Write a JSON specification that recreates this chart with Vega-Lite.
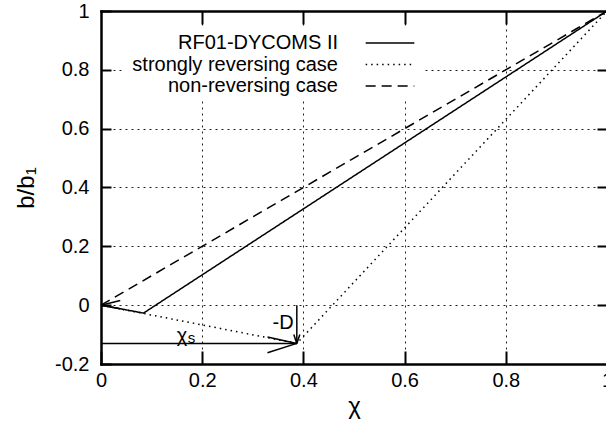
{
  "$schema": "https://vega.github.io/schema/vega-lite/v6.json",
  "width": 506,
  "height": 353,
  "autosize": {"type": "none"},
  "padding": {"left": 101, "top": 11, "right": -1, "bottom": 62},
  "background": "white",
  "view": {"stroke": null},
  "config": {"font": "Liberation Sans"},
  "datasets": {
    "curves": [
      {"series": "RF01-DYCOMS II", "chi": 0, "b": 0},
      {"series": "RF01-DYCOMS II", "chi": 0.084, "b": -0.027},
      {"series": "RF01-DYCOMS II", "chi": 1, "b": 1},
      {"series": "strongly reversing case", "chi": 0, "b": 0},
      {"series": "strongly reversing case", "chi": 0.387, "b": -0.13},
      {"series": "strongly reversing case", "chi": 1, "b": 1},
      {"series": "non-reversing case", "chi": 0, "b": 0},
      {"series": "non-reversing case", "chi": 1, "b": 1}
    ],
    "arrows": [
      {"x1": 0, "y1": -0.13, "x2": 0.387, "y2": -0.13},
      {"x1": 0.387, "y1": -0.13, "x2": 0.329, "y2": -0.108},
      {"x1": 0.387, "y1": -0.13, "x2": 0.329, "y2": -0.162},
      {"x1": 0.387, "y1": 0, "x2": 0.387, "y2": -0.13},
      {"x1": 0.387, "y1": -0.13, "x2": 0.381, "y2": -0.1},
      {"x1": 0.387, "y1": -0.13, "x2": 0.393, "y2": -0.1},
      {"x1": 0, "y1": 0, "x2": 0.038, "y2": 0.016},
      {"x1": 0, "y1": 0, "x2": 0.038, "y2": -0.012}
    ],
    "notes": [
      {"t": "-D", "x": 0.36, "y": -0.06},
      {"t": "χ", "x": 0.16, "y": -0.104}
    ],
    "subs": [
      {"t": "s", "x": 0.179, "y": -0.112}
    ]
  },
  "layer": [
    {
      "data": {"name": "curves"},
      "mark": {"type": "line", "color": "black", "strokeWidth": 1.5},
      "encoding": {
        "x": {
          "field": "chi", "type": "quantitative",
          "scale": {"domain": [0, 1], "nice": false, "zero": false},
          "axis": {
            "orient": "bottom", "values": [0, 0.2, 0.4, 0.6, 0.8, 1],
            "labelExpr": "'' + datum.value",
            "grid": true, "gridDash": [2, 4], "gridColor": "#222", "gridWidth": 1,
            "domain": true, "domainColor": "black", "domainWidth": 2.5, "domainCap": "square",
            "tickSize": -13, "tickWidth": 2, "tickColor": "black",
            "labelFontSize": 20, "labelColor": "black", "labelPadding": 19,
            "labelFlush": false, "labelOverlap": false,
            "title": "χ", "titleFontSize": 24, "titleFontWeight": "normal",
            "titleColor": "black", "titlePadding": 4
          }
        },
        "y": {
          "field": "b", "type": "quantitative",
          "scale": {"domain": [-0.2, 1], "nice": false, "zero": false},
          "axis": {
            "orient": "left", "values": [-0.2, 0, 0.2, 0.4, 0.6, 0.8, 1],
            "labelExpr": "'' + datum.value",
            "grid": true, "gridDash": [2, 4], "gridColor": "#222", "gridWidth": 1,
            "domain": true, "domainColor": "black", "domainWidth": 2.5, "domainCap": "square",
            "tickSize": -10, "tickWidth": 2, "tickColor": "black",
            "labelFontSize": 20, "labelColor": "black", "labelPadding": 22,
            "labelFlush": false, "labelOverlap": false,
            "title": "b/b₁", "titleFontSize": 24, "titleFontWeight": "normal",
            "titleColor": "black", "titlePadding": 16
          }
        },
        "strokeDash": {
          "field": "series", "type": "nominal",
          "scale": {
            "domain": ["RF01-DYCOMS II", "strongly reversing case", "non-reversing case"],
            "range": [[1, 0], [1.5, 4], [10, 6]]
          },
          "legend": {
            "orient": "none", "legendX": 21, "legendY": 18, "title": null,
            "symbolType": "M-4.5,0H4.5", "symbolSize": 117, "symbolStrokeWidth": 1.5,
            "symbolStrokeColor": "black",
            "labelAlign": "right", "labelOffset": -62, "symbolOffset": 254,
            "labelFontSize": 20, "labelColor": "black", "labelLimit": 0,
            "fillColor": "white", "padding": 4, "rowPadding": 1.5
          }
        }
      }
    },
    {
      "data": {"name": "arrows"},
      "mark": {"type": "rule", "color": "black", "strokeWidth": 1.5},
      "encoding": {
        "x": {
          "field": "x1", "type": "quantitative",
          "axis": {"orient": "top", "values": [0.2, 0.4, 0.6, 0.8], "labels": false, "grid": false,
                   "domain": true, "domainColor": "black", "domainWidth": 2.5, "domainCap": "square",
                   "tickSize": -13, "tickWidth": 2, "tickColor": "black", "title": null}
        },
        "y": {
          "field": "y1", "type": "quantitative",
          "axis": {"orient": "right", "values": [0, 0.2, 0.4, 0.6, 0.8], "labels": false, "grid": false,
                   "domain": false, "tickSize": -10, "tickWidth": 2, "tickColor": "black", "title": null}
        },
        "x2": {"field": "x2"},
        "y2": {"field": "y2"}
      }
    },
    {
      "data": {"name": "notes"},
      "mark": {"type": "text", "fontSize": 20, "color": "black", "align": "center", "baseline": "middle"},
      "encoding": {
        "x": {"field": "x", "type": "quantitative", "axis": null},
        "y": {"field": "y", "type": "quantitative", "axis": null},
        "text": {"field": "t"}
      }
    },
    {
      "data": {"name": "subs"},
      "mark": {"type": "text", "fontSize": 15, "color": "black", "align": "center", "baseline": "middle"},
      "encoding": {
        "x": {"field": "x", "type": "quantitative", "axis": null},
        "y": {"field": "y", "type": "quantitative", "axis": null},
        "text": {"field": "t"}
      }
    }
  ],
  "resolve": {"axis": {"x": "independent", "y": "independent"}}
}
